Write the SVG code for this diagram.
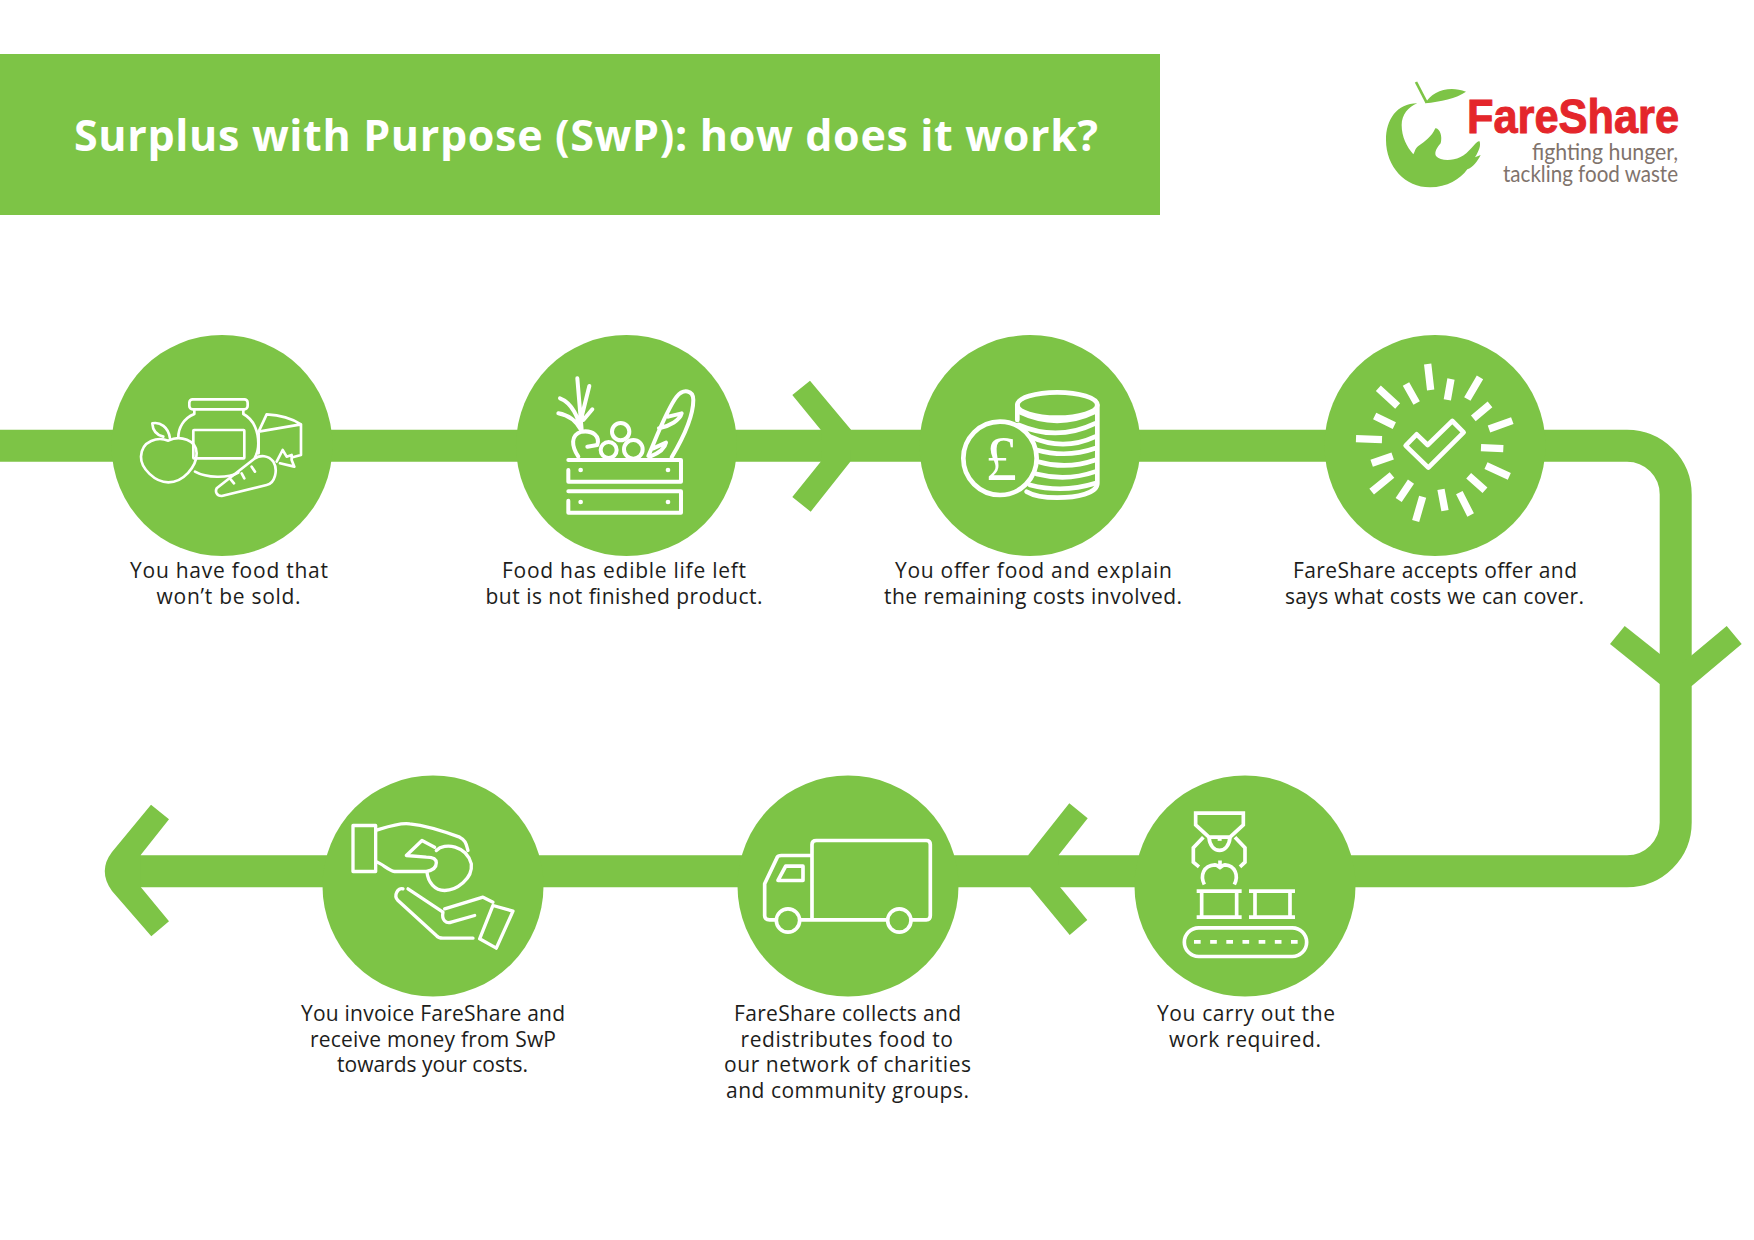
<svg xmlns="http://www.w3.org/2000/svg" width="1754" height="1240" viewBox="0 0 1754 1240">
<style>
.g{fill:#7dc446}
.n{r:110.5px}
.lbl{font-family:"Open Sans","Noto Sans",sans-serif;font-size:21px;fill:#1d1d1b}
.ic{fill:none;stroke:#fff;stroke-linecap:round;stroke-linejoin:round}
.d{fill:#fff}
.tag{font-family:"Lato","Open Sans",sans-serif;font-size:23px;fill:#7f736c}
</style>
<rect width="1754" height="1240" fill="#fff"/>
<g id="banner">
<rect class="g" x="0" y="54" width="1160" height="161"/>
<text x="74" y="151" textLength="1024" font-family="Open Sans,Noto Sans,sans-serif" font-weight="700" font-size="43" fill="#fff">Surplus with Purpose (SwP): how does it work?</text>
</g>
<g id="logo">
<g transform="translate(1360,60) scale(0.3333)">
<path class="g" d="M172 130C110 130 78 180 78 240C78 320 135 382 210 382C262 382 300 358 322 328C338 322 352 305 362 285L345 292C357 272 364 255 358 243C345 245 328 280 300 292C275 304 240 303 228 288C222 276 232 262 242 250C248 230 240 205 226 205C215 230 195 245 175 258C165 265 165 275 160 283C140 260 125 230 125 195C125 165 145 140 172 130Z"/>
<path class="g" d="M196 130C215 95 265 75 318 95C290 115 240 125 196 130Z"/>
<path d="M168 66L200 128" stroke="#7dc446" stroke-width="8" fill="none"/>
</g>
<text x="1467" y="133" textLength="212" lengthAdjust="spacingAndGlyphs" font-family="Liberation Sans,sans-serif" font-weight="700" font-size="49" fill="#e4262b" stroke="#e4262b" stroke-width="1">FareShare</text>
<text class="tag" x="1532" y="160" textLength="146" lengthAdjust="spacingAndGlyphs">fighting hunger,</text>
<text class="tag" x="1503" y="182" textLength="175" lengthAdjust="spacingAndGlyphs">tackling food waste</text>
</g>
<g id="connectors">
<path d="M0 445.7H1627A48.7 48.7 0 0 1 1675.7 494.400V822.600A48.7 48.7 0 0 1 1627 871.300H125" fill="none" stroke="#7dc446" stroke-width="32"/>
<polygon class="g" points="810,380.7 792.3,395 820.7,429.7 822,440 851,440 851,429.7"/>
<polygon class="g" points="792.3,497 810.7,511.7 850.3,461.7 850.3,450 822,450 820.7,461.700"/>
<polygon class="g" points="1624.7,626 1610,644 1659.7,684 1670,684 1670,662"/>
<polygon class="g" points="1691.7,686 1741.7,644 1726.7,626 1691.7,655.3 1682,663 1682,686"/>
<polygon class="g" points="1069.3,803.3 1087.7,818.3 1058.7,855 1058.7,865 1028.3,865 1028.3,855"/>
<polygon class="g" points="1087.3,920 1069.7,935 1030,887 1030,877 1060,877 1060,887"/>
<path class="g" d="M151 804.7L169 819.3L140.7 855V887L169 921.3L151.3 936.3L112 891Q97.5 871 112 852Z"/>
</g>
<g id="step1">
<circle class="g" cx="222" cy="445.500" r="110.500"/>
<g class="ic" stroke-width="8" transform="translate(100,320) scale(0.3333)">
<rect x="268" y="238" width="175" height="30" rx="10"/>
<path d="M283 268V282C250 295 235 325 235 352M430 268V282C465 300 475 340 475 370C475 390 472 400 465 412M285 455C320 475 385 475 415 458"/>
<rect x="280" y="330" width="153" height="85" rx="2"/>
<path d="M205 362C175 350 125 360 123 410C122 445 165 487 205 487C250 487 290 440 290 400C290 360 240 345 205 362Z"/>
<path d="M190 350C170 345 158 330 157 310C180 305 205 320 210 355"/>
<path d="M476 335L500 283C540 285 580 298 603 313V405L578 412M476 335L603 313M476 335V400"/>
<path d="M350 505C345 515 350 528 365 528L500 495C525 490 535 450 520 425C505 405 480 405 465 415Z"/>
<path d="M392 478L402 490M425 460L433 475M455 440L465 455M530 425L548 390L560 410L575 405L575 420L583 440L540 430"/>
</g>
</g>
<g id="step2">
<circle class="g" cx="626.500" cy="445.500" r="110.500"/>
<g class="ic" stroke-width="12" transform="translate(510,320) scale(0.3333)">
<path d="M175 420H513V485H175V450M175 514H513V578H175V542"/>
<path d="M202 175L215 330M238 198L215 290M150 235C190 250 205 300 215 330M145 280C175 285 200 305 215 332M247 268L220 300"/>
<path d="M205 410C185 380 180 345 215 335C250 330 270 350 262 375L232 380"/>
<circle cx="296" cy="390" r="24"/><circle cx="332" cy="335" r="26"/><circle cx="370" cy="388" r="28"/>
<path d="M415 408C440 350 470 270 500 230C520 205 550 210 550 240C550 300 510 370 485 412M475 290L515 280C510 300 480 318 447 325M430 385L468 368C465 385 445 400 420 410"/>
</g>
<g transform="translate(510,320) scale(0.3333)">
<circle class="d" cx="212" cy="450" r="7"/><circle class="d" cx="474" cy="450" r="7"/><circle class="d" cx="212" cy="546" r="7"/><circle class="d" cx="474" cy="546" r="7"/>
</g>
</g>
<g id="step3">
<circle class="g" cx="1030" cy="445.500" r="110.500"/>
<g class="ic" stroke-width="14" transform="translate(920,330) scale(0.3333)">
<ellipse cx="412" cy="225" rx="120" ry="38"/>
<path d="M292 225V270M532 225V460C532 490 470 503 412 503C370 503 340 497 320 485"/>
<path d="M296 245Q412 300 526 245M296 285Q412 335 526 280M330 320Q430 365 526 320M350 360Q440 385 526 355M355 395Q440 420 526 390M350 432Q440 455 526 425M330 465Q430 490 526 460"/>
<circle cx="240" cy="385" r="110" fill="#7dc446"/>
</g>
<text x="1001" y="480" font-family="Liberation Serif,serif" font-size="64" fill="#fff" text-anchor="middle">£</text>
</g>
<g id="step4">
<circle class="g" cx="1435" cy="445.500" r="110.500"/>
<g transform="translate(1325,335) scale(0.3333)">
<path fill="none" stroke="#fff" stroke-width="22" d="M308 87L317 165M378 132L367 195M465 127L427 192M495 208L445 250M562 257L492 282M468 338L535 341M553 424L483 392M480 466L431 422M437 540L403 473M360 527L348 463M272 558L293 485M258 440L221 495M201 420L140 470M203 363L140 385M93 311L171 314M208 272L149 243M275 204L243 147M218 213L160 160"/>
<path class="ic" stroke-width="14" d="M242 332L275 298L308 330L382 258L416 292L310 398Z"/>
</g>
</g>
<g id="step5">
<circle class="g" cx="1245" cy="886" r="110.500"/>
<g class="ic" stroke-width="11" style="stroke-linecap:butt;stroke-linejoin:miter" transform="translate(1135,775.500) scale(0.3333)">
<path d="M182 113H325V148L285 185H222L182 148Z"/>
<path d="M222 185C225 238 282 238 285 185M205 185L175 217V260L192 274M300 185L330 217V260L315 274"/>
<path d="M208 327C195 300 205 270 240 268C245 268 250 272 255 276C260 272 265 268 270 268C300 270 312 300 298 327M255 255V270"/>
<path d="M185 347H320M200 347V425M305 347V425M185 425H320M342 347H480M360 347V425M465 347V425M342 425H480"/>
<rect x="148" y="457" width="367" height="86" rx="43"/>
<path d="M177 499H490" stroke-dasharray="20 28.500"/>
<path d="M248 190H260" stroke-width="12"/>
</g>
</g>
<g id="step6">
<circle class="g" cx="848" cy="886" r="110.500"/>
<g class="ic" stroke-width="11" transform="translate(738,775.500) scale(0.3333)">
<path d="M222 433V207Q222 195 235 195H565Q577 195 577 207V420Q577 433 565 433H520M445 433H190M112 433H95Q80 433 80 420V325L118 245Q120 240 130 240H222"/>
<path d="M143 272H195V315H120Z"/>
<circle cx="150" cy="435" r="35"/><circle cx="484" cy="435" r="35"/>
</g>
</g>
<g id="step7">
<circle class="g" cx="433" cy="886" r="110.500"/>
<g class="ic" stroke-width="10" transform="translate(323,775.500) scale(0.3333)">
<rect x="90" y="150" width="68" height="138"/>
<path d="M158 165C190 155 230 140 260 145C310 150 370 170 410 185C430 195 430 210 435 225M158 258C180 265 195 285 215 288L310 288C330 285 340 275 340 262C340 250 330 245 310 245L250 240L297 195L335 215"/>
<path d="M340 225C365 200 430 210 445 265C450 310 400 345 365 345C335 345 315 320 312 290"/>
<path d="M240 340C225 335 210 360 225 375L340 480C345 487 350 488 360 488L450 488M255 340L360 410C355 435 370 445 385 440L455 420M365 400L480 365L510 380"/>
<path d="M510 390L570 407L520 518L470 490Z"/>
</g>
</g>
<g id="labels">
<text class="lbl" x="130" y="578" textLength="198">You have food that</text>
<text class="lbl" x="156.600" y="604" textLength="144">won’t be sold.</text>
<text class="lbl" x="502" y="578" textLength="244">Food has edible life left</text>
<text class="lbl" x="485.500" y="604" textLength="277">but is not finished product.</text>
<text class="lbl" x="895" y="578" textLength="277">You offer food and explain</text>
<text class="lbl" x="884" y="604" textLength="298">the remaining costs involved.</text>
<text class="lbl" x="1293" y="578" textLength="284">FareShare accepts offer and</text>
<text class="lbl" x="1285" y="604" textLength="299">says what costs we can cover.</text>
<text class="lbl" x="1157" y="1021" textLength="178">You carry out the</text>
<text class="lbl" x="1169" y="1047" textLength="152">work required.</text>
<text class="lbl" x="734" y="1021" textLength="227">FareShare collects and</text>
<text class="lbl" x="740.500" y="1047" textLength="212.500">redistributes food to</text>
<text class="lbl" x="724" y="1072" textLength="247">our network of charities</text>
<text class="lbl" x="726" y="1098" textLength="243">and community groups.</text>
<text class="lbl" x="301" y="1021" textLength="264">You invoice FareShare and</text>
<text class="lbl" x="310" y="1047" textLength="246">receive money from SwP</text>
<text class="lbl" x="337" y="1072" textLength="191">towards your costs.</text>
</g>
</svg>
